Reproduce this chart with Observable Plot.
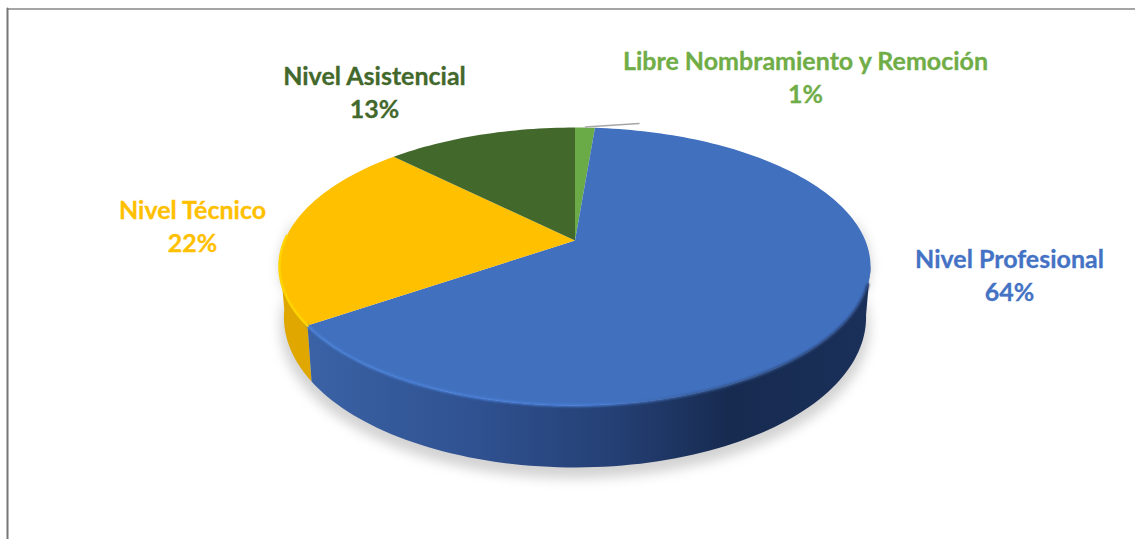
<!DOCTYPE html>
<html>
<head>
<meta charset="utf-8">
<script src="https://cdn.jsdelivr.net/npm/d3@7"></script>
<script src="https://cdn.jsdelivr.net/npm/@observablehq/plot@0.6"></script>
<style>
html,body{margin:0;padding:0;background:#fff;}
svg{display:block;}
</style>
</head>
<body>
<div id="chart"></div>
<script>
// Data, clockwise from the top of the pie
const categories = ["Libre Nombramiento y Remoción", "Nivel Profesional", "Nivel Técnico", "Nivel Asistencial"];
const shares = [1.3, 64.1, 22.1, 12.5];
const percentLabels = ["1%", "64%", "22%", "13%"];

// Styling and layout
const sliceColors = ["#6aab47", "#4170be", "#ffc000", "#43682b"];
const labelColors = ["#70ad47", "#4472c4", "#ffc000", "#43682b"];
const labelCenters = [[805, 78], [1009, 276], [192, 227], [374, 93]];
const W = 1135, H = 539;
const apex = {x: 574.5, y: 240};
const A = 134.1, B = 290.3, P = 0.187;

// perspective projection of the pie circle
function project(theta) {
  const X = Math.sin(theta), Y = -Math.cos(theta), w = 1 - P * Y;
  return {x: apex.x + B * X / w, y: apex.y + A * Y / w};
}
// same circle on the underside: slightly narrower, and the near side is deeper
function projectBottom(theta, grow = 0) {
  const X = Math.sin(theta), Y = -Math.cos(theta), w = 1 - P * Y;
  return {x: apex.x + (0.985 + grow) * B * X / w, y: apex.y + 48 + 14 * Y + (1 + grow) * A * Y / w};
}
function arcPts(t0, t1, n = 90) {
  return d3.range(n + 1).map(i => project(t0 + (t1 - t0) * i / n));
}
function bottomPts(t0, t1, grow = 0, n = 90) {
  return d3.range(n + 1).map(i => projectBottom(t0 + (t1 - t0) * i / n, grow));
}
const total = d3.sum(shares);
let cum = 0;
const slices = shares.map((v, i) => {
  const t0 = cum / total * 2 * Math.PI;
  cum += v;
  return {name: categories[i], t0, t1: cum / total * 2 * Math.PI, color: sliceColors[i]};
});

const topFaces = slices.flatMap(s =>
  [{...apex}, ...arcPts(s.t0, s.t1, Math.max(6, Math.ceil((s.t1 - s.t0) * 40)))].map(p => ({...p, name: s.name}))
);

function wall(t0, t1) {
  return [...arcPts(t0, t1), ...bottomPts(t0, t1).reverse()];
}
const blue = slices[1];
const deg = Math.PI / 180;
const wallStart = 100 * deg, wallEnd = 262 * deg;
const blueWall = wall(wallStart, blue.t1);
const yellowWall = wall(blue.t1, wallEnd);
const shadow = bottomPts(80 * deg, 280 * deg, 0.012).map(p => ({x: p.x, y: p.y + 9}));

const frameTop = [{x: 7, y: 8.5}, {x: 1135, y: 8.5}];
const frameLeft = [{x: 7, y: 8}, {x: 7, y: 539}];
const leader = [{x: 585, y: 126.5}, {x: 638.5, y: 123}];

const labelRows = categories.map((c, i) => ({
  text: c + "\n" + percentLabels[i], x: labelCenters[i][0], y: labelCenters[i][1] - 2.5, color: labelColors[i]
}));

const chart = Plot.plot({
  width: W, height: H, margin: 0,
  x: {domain: [0, W], range: [0, W], axis: null},
  y: {domain: [0, H], range: [0, H], axis: null},
  color: {domain: categories, range: sliceColors},
  style: {background: "#fff"},
  marks: [
    Plot.line(frameTop, {x: "x", y: "y", stroke: "#4d4d4d", strokeWidth: 1.2}),
    Plot.line(frameLeft, {x: "x", y: "y", stroke: "#777", strokeWidth: 2}),
    Plot.line([...arcPts(80 * deg, 280 * deg), ...shadow.slice().reverse()], {x: "x", y: "y", fill: "#a8a8a8", fillOpacity: 0.5, stroke: "none", curve: "linear-closed", imageFilter: "blur(6px)"}),
    Plot.line(yellowWall, {x: "x", y: "y", fill: "#dfa700", stroke: "none", curve: "linear-closed"}),
    Plot.line(blueWall, {x: "x", y: "y", fill: "url(#blueWallGrad)", stroke: "none", curve: "linear-closed"}),
    Plot.line(topFaces, {x: "x", y: "y", z: "name", fill: "name", stroke: "none", curve: "linear-closed"}),
    Plot.line(arcPts(108 * deg, blue.t1), {x: "x", y: "y", stroke: "url(#blueRimGrad)", strokeWidth: 2.5, imageFilter: "blur(1px)"}),
    Plot.line(arcPts(blue.t1, 272 * deg), {x: "x", y: "y", stroke: "#ffd400", strokeWidth: 2.5, imageFilter: "blur(0.7px)"}),
    Plot.line(leader, {x: "x", y: "y", stroke: "#a6a6a6", strokeWidth: 1.5}),
    Plot.text(labelRows, {
      x: "x", y: "y", text: "text", fill: "color", stroke: "color", strokeWidth: 0.3,
      fontFamily: "Lato", fontWeight: 700, fontSize: 25, lineHeight: 1.32, textAnchor: "middle", lineAnchor: "middle"
    })
  ]
});

const defs = document.createElementNS("http://www.w3.org/2000/svg", "defs");
defs.innerHTML = `
<linearGradient id="blueWallGrad" gradientUnits="userSpaceOnUse" x1="309" y1="0" x2="870" y2="0">
  <stop offset="0" stop-color="#3a62a5"/>
  <stop offset="0.3" stop-color="#2f5190"/>
  <stop offset="0.55" stop-color="#243f73"/>
  <stop offset="0.75" stop-color="#172b50"/>
  <stop offset="1" stop-color="#1a3059"/>
</linearGradient>
<linearGradient id="blueRimGrad" gradientUnits="userSpaceOnUse" x1="309" y1="0" x2="870" y2="0">
  <stop offset="0" stop-color="#4a82d8"/>
  <stop offset="0.5" stop-color="#4a7fd8"/>
  <stop offset="0.72" stop-color="#33568f"/>
  <stop offset="1" stop-color="#22396a"/>
</linearGradient>`;
chart.prepend(defs);
document.getElementById("chart").append(chart);
</script>
</body>
</html>
